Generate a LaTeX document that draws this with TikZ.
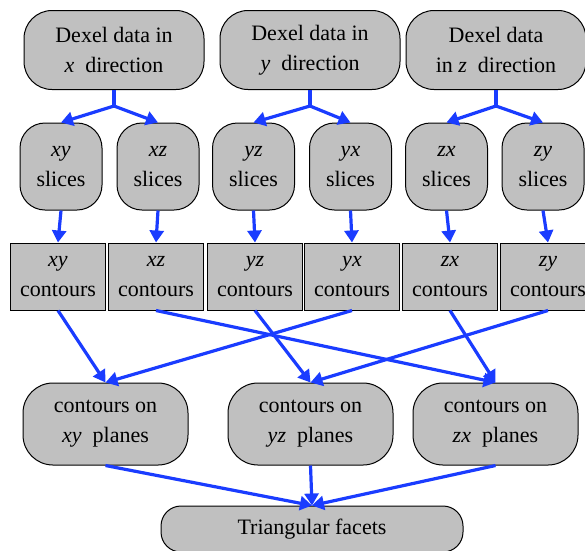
\documentclass[tikz,border=0pt]{standalone}
\usepackage{fontspec}
\setmainfont{Liberation Serif}
\usetikzlibrary{arrows.meta}
\definecolor{boxgray}{HTML}{C0C0C0}
\definecolor{arrblue}{HTML}{1A3CFF}
\begin{document}
\begin{tikzpicture}[x=1pt,y=-1pt,
  box/.style={draw=black,line width=1pt,fill=boxgray,align=center,inner sep=0pt,font=\fontsize{22}{30}\selectfont},
  topbox/.style={box,rounded corners=28pt,minimum width=180pt,minimum height=79pt},
  slicebox/.style={box,rounded corners=25pt,minimum width=82pt,minimum height=87pt},
  contbox/.style={box,minimum width=95pt,minimum height=67pt},
  planebox/.style={box,rounded corners=30pt,minimum width=165pt,minimum height=82pt},
  facetbox/.style={box,rounded corners=20pt,minimum width=302pt,minimum height=46pt},
  arr/.style={draw=arrblue,line width=3.2pt,-{Triangle[length=12pt,width=14pt]}},
  stem/.style={draw=arrblue,line width=3.2pt}
]
\useasboundingbox (0,0) rectangle (585,550);
% top row
\node[topbox] (dx) at (114,50) {Dexel data in\\\textit{x}\ \ direction};
\node[topbox] (dy) at (310,50) {Dexel data in\\\textit{y}\ \ direction};
\node[topbox] (dz) at (496,50) {Dexel data\\in \textit{z}\ \ direction};
% slices
\node[slicebox] (sxy) at (61,166.5) {\textit{xy}\\slices};
\node[slicebox] (sxz) at (158,166.5) {\textit{xz}\\slices};
\node[slicebox] (syz) at (253.5,166.5) {\textit{yz}\\slices};
\node[slicebox] (syx) at (350.5,166.5) {\textit{yx}\\slices};
\node[slicebox] (szx) at (446.5,166.5) {\textit{zx}\\slices};
\node[slicebox] (szy) at (543,166.5) {\textit{zy}\\slices};
% contours
\node[contbox] (cxy) at (58,276.5) {\textit{xy}\\contours};
\node[contbox] (cxz) at (156,276.5) {\textit{xz}\\contours};
\node[contbox] (cyz) at (255,276.5) {\textit{yz}\\contours};
\node[contbox] (cyx) at (352,276.5) {\textit{yx}\\contours};
\node[contbox] (czx) at (450,276.5) {\textit{zx}\\contours};
\node[contbox] (czy) at (548,276.5) {\textit{zy}\\contours};
% planes
\node[planebox] (pxy) at (105.5,424) {contours on\\\textit{xy}\ \ planes};
\node[planebox] (pyz) at (310.5,424) {contours on\\\textit{yz}\ \ planes};
\node[planebox] (pzx) at (495.5,424) {contours on\\\textit{zx}\ \ planes};
% facets
\node[facetbox] (tf) at (312,529) {Triangular facets};
% branches
\draw[stem] (dx.south) -- ++(0,16) coordinate (bx);
\draw[stem] (dy.south) -- ++(0,16) coordinate (by);
\draw[stem] (dz.south) -- ++(0,16) coordinate (bz);
\draw[arr] (bx) -- (sxy.north);
\draw[arr] (bx) -- (sxz.north);
\draw[arr] (by) -- (syz.north);
\draw[arr] (by) -- (syx.north);
\draw[arr] (bz) -- (szx.north);
\draw[arr] (bz) -- (szy.north);
% slices to contours
\draw[arr] (sxy.south) -- (cxy.north);
\draw[arr] (sxz.south) -- (cxz.north);
\draw[arr] (syz.south) -- (cyz.north);
\draw[arr] (syx.south) -- (cyx.north);
\draw[arr] (szx.south) -- (czx.north);
\draw[arr] (szy.south) -- (czy.north);
% contours to planes
\draw[arr] (cxy.south) -- (pxy.north);
\draw[arr] (cyx.south) -- (pxy.north);
\draw[arr] (cyz.south) -- (pyz.north);
\draw[arr] (czy.south) -- (pyz.north);
\draw[arr] (cxz.south) -- (pzx.north);
\draw[arr] (czx.south) -- (pzx.north);
% planes to facets
\draw[arr] (pxy.south) -- (tf.north);
\draw[arr] (pyz.south) -- (tf.north);
\draw[arr] (pzx.south) -- (tf.north);
\end{tikzpicture}
\end{document}
